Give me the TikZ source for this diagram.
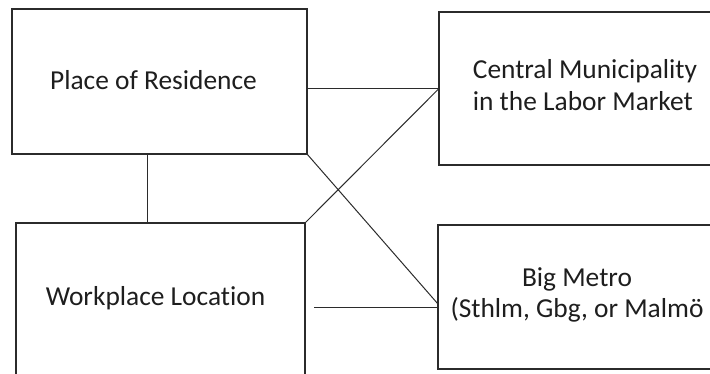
\documentclass[tikz,border=0pt]{standalone}
\usepackage{fontspec}
\setmainfont{Carlito}[Ligatures=NoCommon]
\usepackage{tikz}
\usetikzlibrary{arrows, shapes, positioning}

\definecolor{ink}{HTML}{1E1E1E}
\definecolor{frame}{HTML}{2B2B2B}

\tikzset{
	bloc/.style={draw=frame, line width=1.3pt, inner sep=0pt, outer sep=0pt},
	lien/.style={draw=frame, line width=1pt},
	texte/.style={text=ink, inner sep=0pt, font=\fontsize{27.4}{31.5}\selectfont}
}

\begin{document}
\begin{tikzpicture}[x=1pt, y=-1pt]
	\path[use as bounding box] (0, 0) rectangle (710, 374);
	\clip (0, 0) rectangle (710, 374);

	%cadres
	\node[bloc, minimum width=295, minimum height=145]	(res)		at (159.5, 81.5)	{};
	\node[bloc, minimum width=289, minimum height=177]	(work)		at (160.5, 311.5)	{};
	\node[bloc, minimum width=291, minimum height=153]	(central)	at (584.5, 88.5)	{};
	\node[bloc, minimum width=292, minimum height=144]	(metro)		at (584, 297)		{};

	%textes
	\node[texte]	(resTxt)	at (153.5, 80)	{Place of Residence};
	\node[texte]	(workTxt)	at (155.5, 298)	{Workplace Location};
	\node[texte, align=left]	(centralTxt)	at (585, 85)	{Central Municipality\\in the Labor Market};
	\node[texte, align=center]	(metroTxt)	at (577, 295)	{Big Metro\\(Sthlm, Gbg, or Malmö};

	%liens
	\coordinate (gap) at (314, 308);
	\draw[lien] (res.east |- central.west) to (central.west);
	\draw[lien] ([xshift=-12.5pt]res.south) to ([xshift=-12.5pt]res.south |- work.north);
	\draw[lien] (res.south east) to ([yshift=-7pt]metro.west);
	\draw[lien] (work.north east) to (central.west);
	\draw[lien] (gap) to (gap -| metro.west);

\end{tikzpicture}
\end{document}
